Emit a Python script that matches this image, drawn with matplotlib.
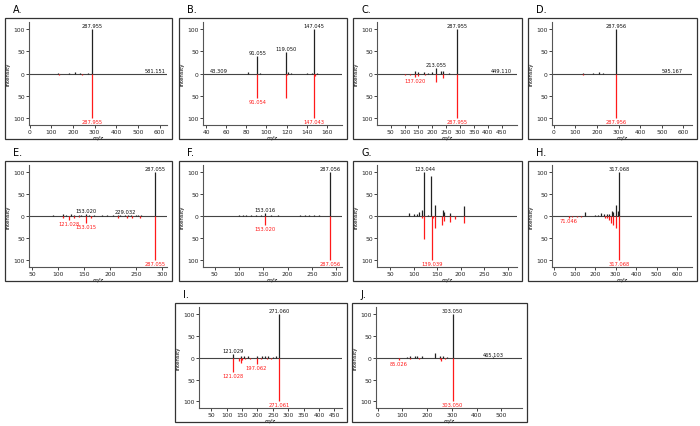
import matplotlib
matplotlib.use('Agg')
import matplotlib.pyplot as plt
from matplotlib.patches import Rectangle

# 面板数据: 上方(黑色)为实测谱, 下方(红色)为参考谱
a_top_mz = [130, 180, 210, 232, 270, 287.955, 581.151]
a_top_i = [2, 1, 3, 1, 1, 100, 0.5]
a_bot_mz = [137, 240, 287.955]
a_bot_i = [2, 2, 100]
a_top_lab = ['287.955', '581.151']
a_bot_lab = ['287.955']

b_top_mz = [43.309, 82, 91.055, 94, 119.050, 121, 124, 140, 145, 147.045, 150]
b_top_i = [0.5, 3, 40, 2, 48, 3, 2, 1, 2, 100, 1]
b_bot_mz = [91.054, 119.2, 120.5, 147.043, 148.5]
b_bot_i = [55, 55, 3, 100, 4]
b_top_lab = ['43.309', '91.055', '119.050', '147.045']
b_bot_lab = ['91.054', '147.043']

c_top_mz = [137, 150, 170, 185, 200, 213.055, 230, 240, 260, 287.955, 449.110]
c_top_i = [7, 4, 3, 2, 3, 12, 5, 7, 2, 100, 0.5]
c_bot_mz = [80, 100, 120, 137.020, 150, 175, 213, 240, 287.955]
c_bot_i = [1, 2, 3, 8, 5, 2, 18, 10, 100]
c_top_lab = ['213.055', '287.955', '449.110']
c_bot_lab = ['137.020', '287.955']

d_top_mz = [137, 180, 210, 230, 287.956, 595.167]
d_top_i = [2, 1, 4, 2, 100, 0.5]
d_bot_mz = [137, 190, 287.956]
d_bot_i = [2, 1, 100]
d_top_lab = ['287.956', '595.167']
d_bot_lab = ['287.956']

e_top_mz = [90, 110, 115, 125, 130, 140, 145, 153.020, 160, 170, 185, 195, 205,
            215, 220, 229.032, 235, 240, 250, 255, 260, 270, 287.055]
e_top_i = [3, 5, 3, 4, 2, 2, 3, 5, 3, 2, 2, 2, 2,
           2, 2, 3, 2, 2, 2, 2, 2, 1, 100]
e_bot_mz = [110, 121.028, 130, 140, 153.015, 163, 215, 233, 243, 258, 287.055]
e_bot_i = [3, 8, 3, 2, 15, 5, 5, 4, 3, 5, 100]
e_top_lab = ['153.020', '229.032', '287.055']
e_bot_lab = ['121.028', '153.015', '287.055']

f_top_mz = [50, 75, 90, 100, 108, 115, 125, 135, 145, 153.016, 165, 180, 195,
            210, 225, 235, 245, 255, 265, 287.056]
f_top_i = [1, 1, 1, 2, 3, 2, 3, 3, 2, 7, 2, 2, 1,
           1, 2, 2, 2, 2, 3, 100]
f_bot_mz = [153.020, 287.056]
f_bot_i = [20, 100]
f_top_lab = ['153.016', '287.056']
f_bot_lab = ['153.020', '287.056']

g_top_mz = [90, 100, 108, 112, 118, 123.044, 130, 137, 145, 162, 165, 178, 207]
g_top_i = [7, 4, 5, 10, 13, 100, 3, 90, 25, 15, 10, 7, 23]
g_bot_mz = [118, 123, 139.039, 141, 145, 160, 165, 178, 188, 207]
g_bot_i = [3, 52, 100, 5, 27, 20, 10, 12, 6, 15]
g_top_lab = ['123.044']
g_bot_lab = ['139.039']

h_top_mz = [150, 200, 215, 230, 245, 260, 270, 285, 290, 300, 310, 317.068]
h_top_i = [10, 2, 2, 8, 6, 5, 5, 12, 10, 25, 12, 100]
h_bot_mz = [71.046, 90, 110, 130, 250, 260, 270, 280, 290, 300, 317.068]
h_bot_i = [3, 2, 1, 1, 4, 5, 8, 15, 20, 27, 100]
h_top_lab = ['317.068']
h_bot_lab = ['71.046', '317.068']

i_top_mz = [121.029, 145, 155, 170, 197, 215, 225, 235, 250, 260, 271.060]
i_top_i = [8, 5, 4, 5, 5, 4, 3, 3, 2, 3, 100]
i_bot_mz = [70, 121.028, 140, 145, 150, 160, 175, 197.062, 210, 230, 245, 271.061]
i_bot_i = [1, 32, 8, 13, 6, 4, 4, 15, 4, 3, 3, 100]
i_top_lab = ['121.029', '271.060']
i_bot_lab = ['121.028', '197.062', '271.061']

j_top_mz = [120, 130, 150, 160, 180, 230, 250, 265, 280, 303.050, 465.103]
j_top_i = [2, 3, 5, 4, 3, 10, 5, 3, 2, 100, 0.5]
j_bot_mz = [85.026, 130, 165, 250, 255, 270, 303.050]
j_bot_i = [5, 3, 3, 3, 7, 4, 100]
j_top_lab = ['303.050', '465.103']
j_bot_lab = ['85.026', '303.050']

panels = [
    ('A.', a_top_mz, a_top_i, a_bot_mz, a_bot_i, a_top_lab, a_bot_lab, (-3, 634), range(0, 601, 100)),
    ('B.', b_top_mz, b_top_i, b_bot_mz, b_bot_i, b_top_lab, b_bot_lab, (37, 175), range(40, 161, 20)),
    ('C.', c_top_mz, c_top_i, c_bot_mz, c_bot_i, c_top_lab, c_bot_lab, (1, 505), range(50, 451, 50)),
    ('D.', d_top_mz, d_top_i, d_bot_mz, d_bot_i, d_top_lab, d_bot_lab, (-8, 640), range(0, 601, 100)),
    ('E.', e_top_mz, e_top_i, e_bot_mz, e_bot_i, e_top_lab, e_bot_lab, (44, 310), range(50, 301, 50)),
    ('F.', f_top_mz, f_top_i, f_bot_mz, f_bot_i, f_top_lab, f_bot_lab, (26, 312), range(50, 301, 50)),
    ('G.', g_top_mz, g_top_i, g_bot_mz, g_bot_i, g_top_lab, g_bot_lab, (22, 320), range(50, 301, 50)),
    ('H.', h_top_mz, h_top_i, h_bot_mz, h_bot_i, h_top_lab, h_bot_lab, (-10, 673), range(0, 601, 100)),
    ('I.', i_top_mz, i_top_i, i_bot_mz, i_bot_i, i_top_lab, i_bot_lab, (10, 475), range(50, 451, 50)),
    ('J.', j_top_mz, j_top_i, j_bot_mz, j_bot_i, j_top_lab, j_bot_lab, (-7, 583), range(0, 501, 100)),
]

# 各面板外框位置 (像素: 左, 上, 右, 下)
boxes = [(5, 19, 172, 140), (179, 19, 347, 140), (353, 19, 522, 140), (528, 19, 697, 140),
         (5, 162, 172, 282), (179, 162, 347, 282), (353, 162, 522, 282), (528, 162, 697, 282),
         (175, 304, 347, 423), (352, 304, 527, 423)]

W, H = 700, 427
fig = plt.figure(figsize=(7, 4.27), dpi=100)
red = '#ff1a1a'
dark = '#222222'


def lab_ha(x, xlim):
    # 靠近坐标轴两端的标签不要越界
    f = (x - xlim[0]) / (xlim[1] - xlim[0])
    if f < 0.08:
        return 'left'
    if f > 0.92:
        return 'right'
    return 'center'


for (name, tmz, ti, bmz, bi, tlab, blab, xlim, xt), (l, t, r, b) in zip(panels, boxes):
    # 外框
    fig.patches.append(Rectangle((l / W, 1 - b / H), (r - l) / W, (b - t) / H,
                                 transform=fig.transFigure, fill=False,
                                 edgecolor='#333333', lw=0.9))
    fig.text((l + 8) / W, 1 - (t - 9) / H, name, fontsize=7, va='center', ha='left')

    ax = fig.add_axes([(l + 24) / W, 1 - (b - 14) / H, (r - l - 29) / W, (b - 14 - t - 4) / H])
    ax.set_xlim(*xlim)
    ax.set_ylim(-115, 116)
    ax.axhline(0, color='#444444', lw=0.8, zorder=1)
    ax.vlines(tmz, 0, ti, color=dark, lw=0.9, zorder=2)
    ax.vlines(bmz, 0, [-v for v in bi], color=red, lw=0.9, zorder=2)

    for s in tlab:
        mz = float(s)
        k = min(range(len(tmz)), key=lambda n: abs(tmz[n] - mz))
        ax.text(tmz[k], ti[k] + 2, s, fontsize=3.7, color='#111111',
                ha=lab_ha(tmz[k], xlim), va='bottom')
    for s in blab:
        mz = float(s)
        k = min(range(len(bmz)), key=lambda n: abs(bmz[n] - mz))
        ax.text(bmz[k], -bi[k] - 2, s, fontsize=3.7, color=red,
                ha=lab_ha(bmz[k], xlim), va='top')

    ax.set_yticks([-100, -50, 0, 50, 100])
    ax.set_yticklabels(['100', '50', '0', '50', '100'])
    ax.set_xticks(list(xt))
    ax.tick_params(labelsize=4.3, length=2, width=0.6, pad=1, colors='#222222')
    for side in ['top', 'right']:
        ax.spines[side].set_visible(False)
    for side in ['left', 'bottom']:
        ax.spines[side].set_color('#555555')
        ax.spines[side].set_linewidth(0.8)
    ax.set_xlabel('m/z', fontsize=4.3, style='italic', labelpad=0)
    ax.set_ylabel('Intensity', fontsize=3.9, labelpad=2)
    ax.patch.set_visible(False)

plt.savefig('out.png', dpi=100)
